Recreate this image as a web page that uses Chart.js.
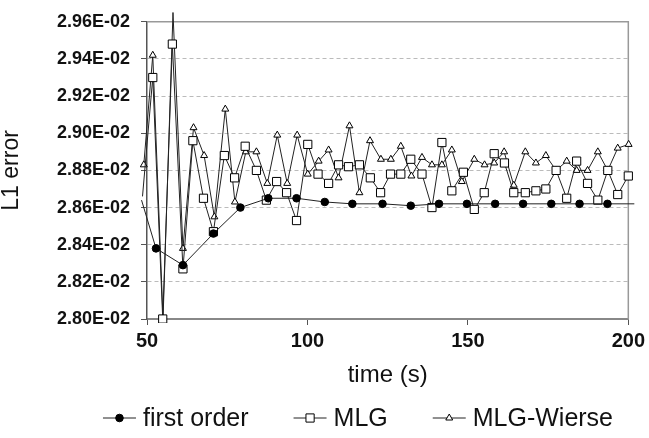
<!DOCTYPE html>
<html>
<head>
<meta charset="utf-8">
<script src="https://cdn.jsdelivr.net/npm/chart.js@4.4.1/dist/chart.umd.min.js"></script>
<style>
  body { margin: 0; background: #fff; }
</style>
</head>
<body>
<canvas id="errorChart" width="649" height="438"></canvas>
<script>
  // L1 error values are in units of 1E-02
  const firstOrderTime = [48.3, 52.8, 61.2, 70.7, 79.1, 87.8, 96.6, 105.4, 114.0, 123.4, 132.2, 141.0, 149.7, 158.5, 167.2, 176.0, 184.8, 193.5, 202.2];
  const firstOrderError = [2.864, 2.838, 2.829, 2.846, 2.860, 2.865, 2.865, 2.863, 2.862, 2.862, 2.861, 2.862, 2.862, 2.862, 2.862, 2.862, 2.862, 2.862, 2.862];

  const mlgTime = [48.6, 51.8, 54.9, 57.9, 61.2, 64.3, 67.6, 70.7, 74.1, 77.3, 80.6, 84.1, 87.2, 90.4, 93.5, 96.6, 100.1, 103.3, 106.6, 109.7, 112.8, 116.2, 119.6, 122.8, 125.9, 129.1, 132.2, 135.7, 138.8, 141.9, 145.0, 148.6, 152.0, 155.1, 158.2, 161.4, 164.3, 167.9, 171.2, 174.3, 177.5, 180.8, 183.9, 187.3, 190.5, 193.6, 196.7, 200.0];
  const mlgError = [2.866, 2.930, 2.800, 2.948, 2.827, 2.896, 2.865, 2.847, 2.888, 2.876, 2.893, 2.880, 2.864, 2.874, 2.868, 2.853, 2.894, 2.878, 2.873, 2.883, 2.882, 2.883, 2.876, 2.868, 2.878, 2.878, 2.886, 2.878, 2.860, 2.895, 2.869, 2.879, 2.859, 2.868, 2.889, 2.884, 2.868, 2.868, 2.869, 2.870, 2.880, 2.865, 2.885, 2.873, 2.864, 2.880, 2.867, 2.877];

  const wierseTime = [49.0, 51.8, 55.0, 58.1, 61.2, 64.5, 67.8, 71.0, 74.4, 77.4, 80.8, 84.1, 87.5, 90.6, 93.7, 96.8, 100.1, 103.5, 106.6, 109.7, 113.1, 116.2, 119.5, 122.9, 126.0, 129.1, 132.4, 135.7, 138.8, 141.9, 145.0, 148.1, 152.0, 155.2, 158.2, 161.3, 164.3, 167.9, 171.2, 174.3, 177.5, 180.8, 183.9, 187.3, 190.5, 193.6, 196.7, 200.1, 201.6];
  const wierseError = [2.883, 2.942, 2.800, 2.965, 2.838, 2.903, 2.888, 2.855, 2.913, 2.863, 2.890, 2.890, 2.873, 2.899, 2.873, 2.899, 2.878, 2.885, 2.891, 2.876, 2.904, 2.868, 2.896, 2.886, 2.886, 2.893, 2.877, 2.887, 2.883, 2.883, 2.891, 2.874, 2.886, 2.883, 2.884, 2.890, 2.872, 2.890, 2.884, 2.888, 2.880, 2.885, 2.880, 2.880, 2.890, 2.880, 2.892, 2.894, 2.888];

  const xTicks = [50, 100, 150, 200];
  const yTicks = [2.80, 2.82, 2.84, 2.86, 2.88, 2.90, 2.92, 2.94, 2.96];

  const font = "'Liberation Sans', Arial, sans-serif";

  function toPoints(times, values) {
    return times.map((t, i) => ({ x: t, y: values[i] }));
  }

  // hide markers for points that run off the ends of the axis
  function markerSize(size) {
    return (c) => (c.raw && (c.raw.x > 200.5 || c.raw.x < 48.95) ? 0 : size);
  }

  const series = [
    { label: "first order", time: firstOrderTime, err: firstOrderError, style: "circle", size: 3.8, fill: "#000" },
    { label: "MLG", time: mlgTime, err: mlgError, style: "rect", size: 5.8, fill: "#fff" },
    { label: "MLG-Wierse", time: wierseTime, err: wierseError, style: "triangle", size: 4, fill: "#fff" },
  ];

  const frame = {
    id: "frame",
    beforeDatasetsDraw(chart) {
      const a = chart.chartArea;
      const ctx = chart.ctx;
      ctx.save();
      ctx.strokeStyle = "#999";
      ctx.lineWidth = 1.5;
      ctx.beginPath();
      ctx.moveTo(a.left, a.top);
      ctx.lineTo(a.right, a.top);
      ctx.lineTo(a.right, a.bottom);
      ctx.stroke();
      ctx.restore();
    },
  };

  const bottomLegend = {
    id: "bottomLegend",
    afterDraw(chart) {
      const ctx = chart.ctx;
      ctx.save();
      ctx.font = "25px " + font;
      const symW = 33, gap = 7, itemGap = 45, y = 418;
      const widths = series.map((s) => ctx.measureText(s.label).width);
      const total = widths.reduce((sum, w) => sum + symW + gap + w, 0) + itemGap * (series.length - 1);
      let x = 358 - total / 2;
      series.forEach((s, i) => {
        ctx.strokeStyle = "#222";
        ctx.lineWidth = 1;
        ctx.beginPath();
        ctx.moveTo(x, y);
        ctx.lineTo(x + symW, y);
        ctx.stroke();
        ctx.fillStyle = s.fill;
        ctx.strokeStyle = "#000";
        Chart.helpers.drawPoint(ctx, { pointStyle: s.style, radius: s.size, rotation: 0, borderWidth: 1 }, x + symW / 2, y);
        ctx.fillStyle = "#111";
        ctx.textAlign = "left";
        ctx.textBaseline = "middle";
        ctx.fillText(s.label, x + symW + gap, y + 1);
        x += symW + gap + widths[i] + itemGap;
      });
      ctx.restore();
    },
  };

  const ctx = document.getElementById("errorChart").getContext("2d");

  const errorChart = new Chart(ctx, {
    type: "line",
    data: {
      datasets: series.map((s) => ({
        label: s.label,
        data: toPoints(s.time, s.err),
        borderColor: "#222",
        borderWidth: 1,
        pointStyle: s.style,
        pointRadius: markerSize(s.size),
        pointBackgroundColor: s.fill,
        pointBorderColor: "#000",
        pointBorderWidth: 1,
        tension: 0,
        clip: { left: 8, top: 12, right: 6, bottom: 4 },
      })),
    },
    options: {
      responsive: false,
      animation: false,
      layout: { padding: { left: 0, top: 19, right: 17, bottom: 51 } },
      plugins: {
        legend: { display: false },
        tooltip: { enabled: false },
      },
      scales: {
        x: {
          type: "linear",
          min: 50,
          max: 200,
          afterBuildTicks: (scale) => { scale.ticks = xTicks.map((v) => ({ value: v })); },
          afterFit: (scale) => { scale.height = 68; },
          ticks: {
            color: "#111",
            padding: 4,
            font: { family: font, size: 20, weight: "bold" },
          },
          grid: {
            drawOnChartArea: false,
            drawTicks: true,
            tickLength: 6,
            tickColor: "#555",
          },
          border: { color: "#888", width: 2 },
          title: {
            display: true,
            text: "time (s)",
            color: "#111",
            padding: 0,
            font: { family: font, size: 24, lineHeight: 1 },
          },
        },
        y: {
          min: 2.80,
          max: 2.96,
          afterBuildTicks: (scale) => { scale.ticks = yTicks.map((v) => ({ value: v })); },
          afterFit: (scale) => { scale.width = 147; },
          ticks: {
            color: "#111",
            padding: 11,
            font: { family: font, size: 18, weight: "bold" },
            callback: (v) => v.toFixed(2) + "E-02",
          },
          grid: {
            color: "#bbb",
            tickLength: 6,
            tickColor: "#555",
            tickBorderDash: [],
          },
          border: { color: "#555", width: 1.5, dash: [4, 3] },
          title: {
            display: true,
            text: "L1 error",
            color: "#111",
            padding: 0,
            font: { family: font, size: 23, lineHeight: 1 },
          },
        },
      },
    },
    plugins: [frame, bottomLegend],
  });
</script>
</body>
</html>
